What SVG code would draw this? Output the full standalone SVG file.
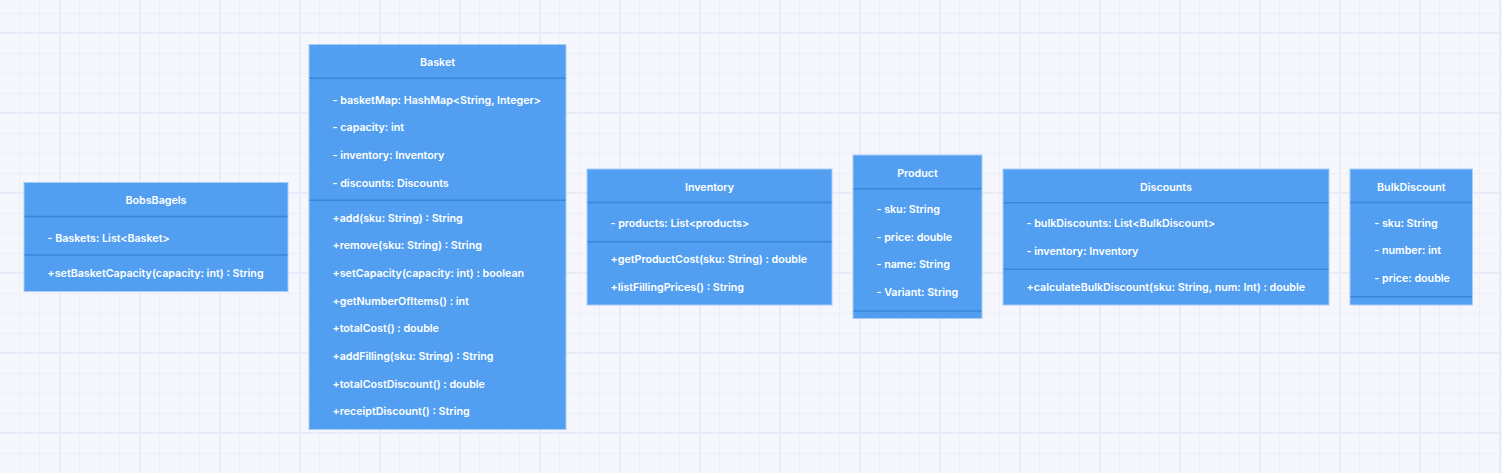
<svg xmlns="http://www.w3.org/2000/svg" width="1502" height="473" viewBox="0 0 1502 473">
<style>
.box{fill:#529ff2;stroke:#a8cdf6;stroke-width:1}
.sep{stroke:#3686dc;stroke-width:1.5}
.t{font-family:Inter,"Liberation Sans",sans-serif;font-size:10.7px;font-weight:600;fill:#ffffff}
.c{text-anchor:middle}
</style>
<defs>
<pattern id="minor" patternUnits="userSpaceOnUse" x="19" y="13" width="20" height="20">
<path d="M0 0.5H20M0.5 0V20" stroke="#eceef9" stroke-width="1" fill="none"/>
</pattern>
<pattern id="major" patternUnits="userSpaceOnUse" x="59" y="32" width="80" height="80">
<path d="M0 1H80M1 0V80" stroke="#e9ebf8" stroke-width="2" fill="none"/>
</pattern>
</defs>
<rect width="1502" height="473" fill="#f6f7fd"/>
<rect width="1502" height="473" fill="url(#minor)"/>
<rect width="1502" height="473" fill="url(#major)"/>
<g id="connectors"></g>
<g id="BobsBagels">
<rect class="box" x="24" y="182.5" width="264" height="109"/>
<line class="sep" x1="24.5" y1="216.5" x2="287.5" y2="216.5"/>
<line class="sep" x1="24.5" y1="255" x2="287.5" y2="255"/>
<text class="t c" x="156" y="204">BobsBagels</text>
<text class="t" x="47.5" y="242">- Baskets: List&lt;Basket&gt;</text>
<text class="t" x="47.5" y="277">+setBasketCapacity(capacity: int) : String</text>
</g>
<g id="Basket">
<rect class="box" x="309" y="44.5" width="257" height="385"/>
<line class="sep" x1="309.5" y1="78.3" x2="565.5" y2="78.3"/>
<line class="sep" x1="309.5" y1="200.3" x2="565.5" y2="200.3"/>
<text class="t c" x="437.5" y="66">Basket</text>
<text class="t" x="332.5" y="104">- basketMap: HashMap&lt;String, Integer&gt;</text>
<text class="t" x="332.5" y="130.5">- capacity: int</text>
<text class="t" x="332.5" y="158.5">- inventory: Inventory</text>
<text class="t" x="332.5" y="186.5">- discounts: Discounts</text>
<text class="t" x="332.5" y="221.5">+add(sku: String) : String</text>
<text class="t" x="332.5" y="249">+remove(sku: String) : String</text>
<text class="t" x="332.5" y="276.5">+setCapacity(capacity: int) : boolean</text>
<text class="t" x="332.5" y="304.5">+getNumberOfItems() : int</text>
<text class="t" x="332.5" y="331.5">+totalCost() : double</text>
<text class="t" x="332.5" y="359.5">+addFilling(sku: String) : String</text>
<text class="t" x="332.5" y="387.5">+totalCostDiscount() : double</text>
<text class="t" x="332.5" y="414.5">+receiptDiscount() : String</text>
</g>
<g id="Inventory">
<rect class="box" x="587" y="169" width="245" height="136"/>
<line class="sep" x1="587.5" y1="202.5" x2="831.5" y2="202.5"/>
<line class="sep" x1="587.5" y1="241.7" x2="831.5" y2="241.7"/>
<text class="t c" x="709.5" y="191">Inventory</text>
<text class="t" x="610.5" y="227">- products: List&lt;products&gt;</text>
<text class="t" x="610.5" y="263">+getProductCost(sku: String) : double</text>
<text class="t" x="610.5" y="291">+listFillingPrices() : String</text>
</g>
<g id="Product">
<rect class="box" x="853" y="155" width="129" height="163.5"/>
<line class="sep" x1="853.5" y1="188.7" x2="981.5" y2="188.7"/>
<line class="sep" x1="853.5" y1="311" x2="981.5" y2="311"/>
<text class="t c" x="917.5" y="177">Product</text>
<text class="t" x="876.5" y="213">- sku: String</text>
<text class="t" x="876.5" y="241">- price: double</text>
<text class="t" x="876.5" y="268">- name: String</text>
<text class="t" x="876.5" y="296">- Variant: String</text>
</g>
<g id="Discounts">
<rect class="box" x="1003" y="169" width="326" height="136"/>
<line class="sep" x1="1003.5" y1="202.7" x2="1328.5" y2="202.7"/>
<line class="sep" x1="1003.5" y1="269.3" x2="1328.5" y2="269.3"/>
<text class="t c" x="1166" y="191">Discounts</text>
<text class="t" x="1026.5" y="227">- bulkDiscounts: List&lt;BulkDiscount&gt;</text>
<text class="t" x="1026.5" y="255">- inventory: Inventory</text>
<text class="t" x="1026.5" y="291">+calculateBulkDiscount(sku: String, num: Int) : double</text>
</g>
<g id="BulkDiscount">
<rect class="box" x="1350" y="169" width="122.5" height="136"/>
<line class="sep" x1="1350.5" y1="202.5" x2="1472" y2="202.5"/>
<line class="sep" x1="1350.5" y1="296.7" x2="1472" y2="296.7"/>
<text class="t c" x="1411.3" y="191">BulkDiscount</text>
<text class="t" x="1374.3" y="227">- sku: String</text>
<text class="t" x="1374.3" y="254">- number: int</text>
<text class="t" x="1374.3" y="282">- price: double</text>
</g>
</svg>
